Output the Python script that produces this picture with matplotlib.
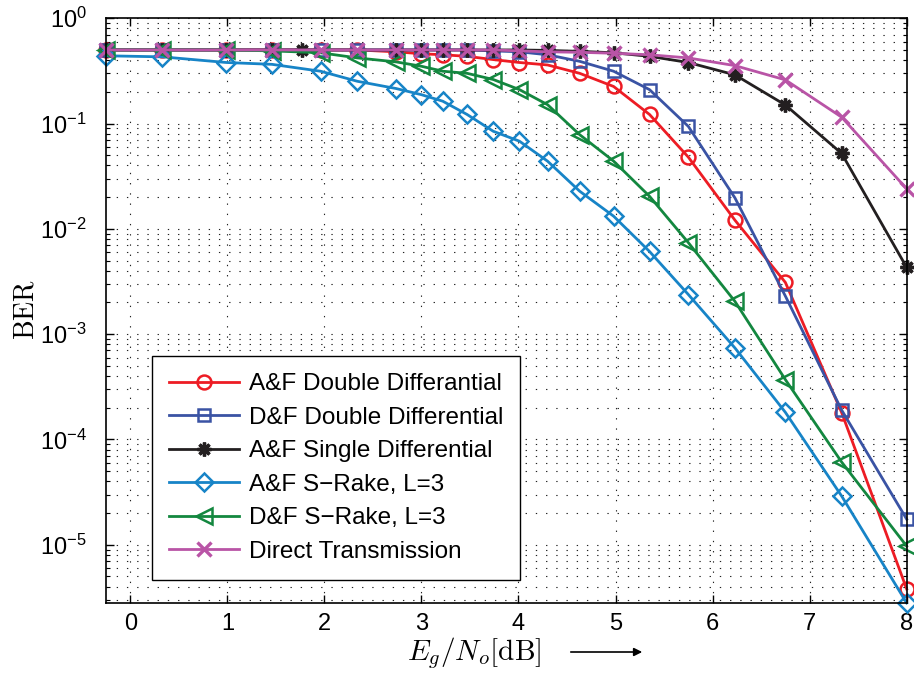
import numpy as np
import matplotlib
matplotlib.use('Agg')
from matplotlib import pyplot as plt

plt.rcParams['font.family'] = ['Liberation Sans', 'DejaVu Sans']
plt.rcParams['mathtext.fontset'] = 'cm'

# Eg/No [dB] sample points
snr = [-0.25, 0.33, 0.99, 1.46, 1.96, 2.34, 2.74, 3.0, 3.22, 3.47, 3.74,
       4.01, 4.30, 4.63, 4.98, 5.35, 5.75, 6.23, 6.75, 7.33, 8.0]
snr_single = [-0.25, 0.33, 0.99, 1.46, 1.77, 2.74, 3.0, 3.22, 3.47, 3.74,
              4.01, 4.30, 4.63, 4.98, 5.35, 5.75, 6.23, 6.75, 7.33, 8.0]

ber_af_double = [0.5, 0.5, 0.5, 0.5, 0.5, 0.5, 0.48, 0.46, 0.45, 0.435, 0.405,
                 0.38, 0.36, 0.30, 0.225, 0.122, 0.048, 0.0121, 0.0031, 1.8e-4, 3.8e-6]
ber_df_double = [0.5, 0.5, 0.5, 0.5, 0.5, 0.5, 0.5, 0.5, 0.5, 0.5, 0.49,
                 0.48, 0.45, 0.39, 0.314, 0.21, 0.094, 0.0197, 0.0023, 1.9e-4, 1.75e-5]
ber_af_single = [0.5, 0.5, 0.5, 0.5, 0.5, 0.5, 0.5, 0.5, 0.5, 0.5,
                 0.5, 0.495, 0.485, 0.47, 0.435, 0.38, 0.29, 0.15, 0.052, 0.0043]
ber_af_srake = [0.44, 0.43, 0.38, 0.365, 0.314, 0.252, 0.215, 0.188, 0.163, 0.122, 0.0845,
                0.068, 0.0439, 0.0228, 0.0132, 0.0061, 0.00238, 7.4e-4, 1.81e-4, 2.9e-5, 2.8e-6]
ber_df_srake = [0.5, 0.5, 0.5, 0.49, 0.47, 0.42, 0.385, 0.35, 0.314, 0.30, 0.262,
                0.21, 0.151, 0.0785, 0.044, 0.0204, 0.0074, 0.00205, 3.7e-4, 6.1e-5, 9.7e-6]
ber_direct = [0.5, 0.5, 0.5, 0.5, 0.5, 0.5, 0.5, 0.5, 0.5, 0.5, 0.5,
              0.49, 0.48, 0.475, 0.465, 0.45, 0.42, 0.355, 0.26, 0.115, 0.024]

labels = ['A&F Double Differantial', 'D&F Double Differential', 'A&F Single Differential',
          'A&F S\u2212Rake, L=3', 'D&F S\u2212Rake, L=3', 'Direct Transmission']

fig = plt.figure(figsize=(9.14, 6.76), dpi=100)
ax = fig.add_axes([0.116, 0.108, 0.876, 0.865])

lw = 2.0
mew = 1.8
ax.plot(snr, ber_af_double, '-o', color='#ED1C24', lw=lw, ms=10, mew=mew, mfc='none', label=labels[0], clip_on=False)
ax.plot(snr, ber_df_double, '-s', color='#3A53A4', lw=lw, ms=9, mew=mew, mfc='none', label=labels[1], clip_on=False)
ax.plot(snr_single, ber_af_single, '-', marker=(8, 2, 0), color='#231F20', lw=lw, ms=10, mew=2.4, label=labels[2], clip_on=False)
ax.plot(snr, ber_af_srake, '-D', color='#1784C7', lw=lw, ms=9, mew=mew, mfc='none', label=labels[3], clip_on=False)
ax.plot(snr, ber_df_srake, '-<', color='#13873F', lw=lw, ms=11, mew=mew, mfc='none', label=labels[4], clip_on=False)
ax.plot(snr, ber_direct, '-x', color='#B954A6', lw=lw, ms=10, mew=2.4, label=labels[5], clip_on=False)

ax.set_yscale('log')
ax.set_xlim(-0.25, 8)
ax.set_ylim(2.8e-6, 1)
ax.set_xticks(range(0, 9))

dots = (0, (1.2, 8))
ax.grid(True, which='major', axis='x', linestyle=dots, color='#222222', lw=0.8)
ax.grid(True, which='both', axis='y', linestyle=dots, color='#222222', lw=0.8)

ax.tick_params(which='both', direction='in', top=True, right=True, labelsize=17)
ax.tick_params(which='major', length=6, width=1)
ax.tick_params(which='minor', length=3, width=0.8)
ax.tick_params(axis='y', which='major', pad=14)
ax.tick_params(axis='x', which='major', pad=7)
for s in ax.spines.values():
    s.set_linewidth(1.2)

fig.text(26 / 914, 1 - 310 / 676, r'$\mathrm{BER}$', fontsize=20, rotation=90, ha='center', va='center')
fig.text(474 / 914, 1 - 653 / 676, r'$E_g/N_o[\mathrm{dB}]$', fontsize=21, ha='center', va='center')
fig.add_artist(matplotlib.patches.FancyArrowPatch((568 / 914, 1 - 652 / 676), (645 / 914, 1 - 652 / 676),
                                                  transform=fig.transFigure, arrowstyle='-|>',
                                                  mutation_scale=12, lw=1.2, color='black'))

leg = ax.legend(loc='lower left', bbox_to_anchor=(0.057, 0.04), fontsize=17.5, handlelength=2.9,
                fancybox=False, framealpha=1, edgecolor='black', borderaxespad=0,
                labelspacing=0.47, handletextpad=0.4, borderpad=0.7)
leg.get_frame().set_linewidth(1.0)

fig.savefig('out.png', dpi=100)
